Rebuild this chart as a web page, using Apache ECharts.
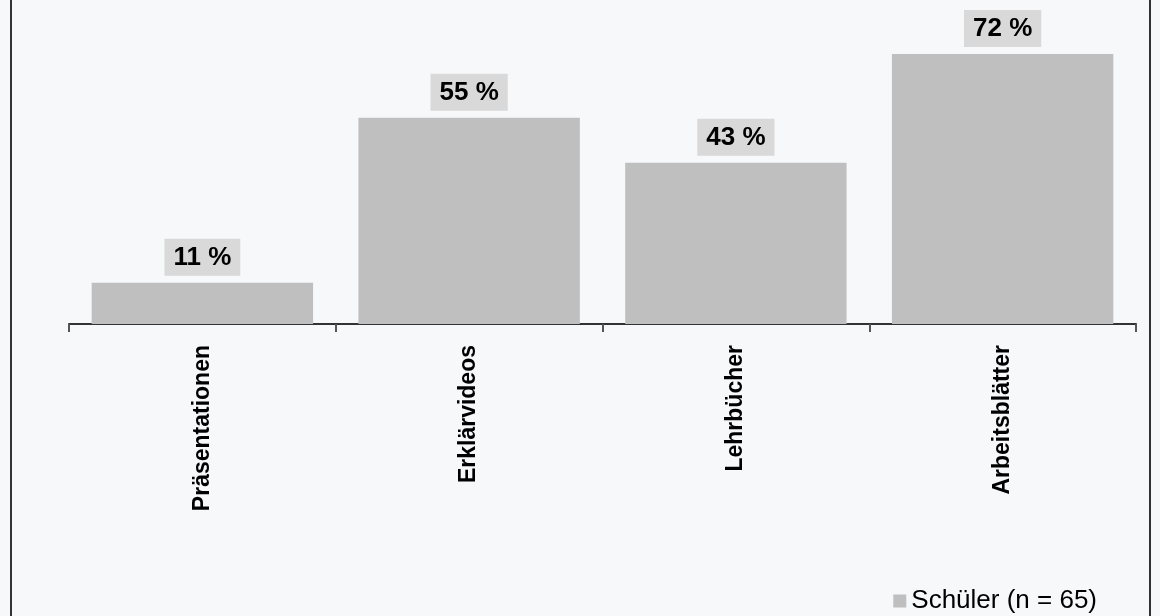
<!DOCTYPE html>
<html>
<head>
<meta charset="utf-8">
<script src="https://cdn.jsdelivr.net/npm/echarts@6/dist/echarts.min.js"></script>
<style>
  html, body { margin: 0; padding: 0; background: #f7f8fa; }
  #chart { width: 1160px; height: 616px; }
</style>
</head>
<body>
<div id="chart"></div>
<script>
const categories = ['Präsentationen', 'Erklärvideos', 'Lehrbücher', 'Arbeitsblätter']
const values = [11, 55, 43, 72]
const seriesName = 'Schüler (n = 65)'

const chart = echarts.init(document.getElementById('chart'))

chart.setOption({
  backgroundColor: '#f7f8fa',
  textStyle: { fontFamily: 'Liberation Sans, Arial, sans-serif' },
  graphic: [
    { type: 'line', shape: { x1: 11, y1: 0, x2: 11, y2: 616 }, style: { stroke: '#333', lineWidth: 2 } },
    { type: 'line', shape: { x1: 1150, y1: 0, x2: 1150, y2: 616 }, style: { stroke: '#333', lineWidth: 2 } },
  ],
  grid: { left: 69, right: 24, top: 24, height: 300 },
  legend: {
    data: [seriesName],
    icon: 'rect',
    right: 58,
    bottom: -3,
    itemWidth: 13,
    itemHeight: 13,
    itemGap: 4,
    textStyle: { fontSize: 26, color: '#000', padding: [0, 0, 0, 0] },
  },
  xAxis: {
    type: 'category',
    data: categories,
    axisLine: { lineStyle: { color: '#333', width: 2 } },
    axisTick: { show: true, alignWithLabel: false, interval: 0, length: 8, lineStyle: { color: '#555', width: 2 } },
    axisLabel: {
      rotate: 90,
      margin: 21,
      fontSize: 23,
      fontWeight: 'bold',
      color: '#000',
    },
  },
  yAxis: {
    type: 'value',
    min: 0,
    max: 80,
    show: false,
    splitLine: { show: false },
  },
  series: [
    {
      name: seriesName,
      type: 'bar',
      data: values,
      barCategoryGap: '17%',
      itemStyle: { color: '#bfbfbf' },
      label: {
        show: true,
        position: 'top',
        distance: 7,
        formatter: (p) => p.value + ' %',
        fontSize: 26,
        fontWeight: 'bold',
        color: '#000',
        backgroundColor: '#d9d9d9',
        padding: [6, 9, 5, 9],
      },
    },
  ],
})
</script>
</body>
</html>
